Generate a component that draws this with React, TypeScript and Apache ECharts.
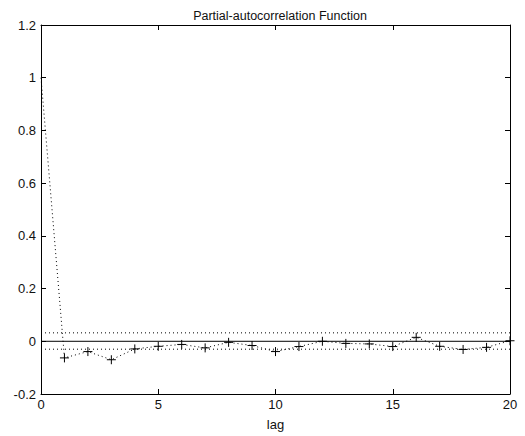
import React, { useEffect, useRef } from "react";
import * as echarts from "echarts";

const lags = [0, 1, 2, 3, 4, 5, 6, 7, 8, 9, 10, 11, 12, 13, 14, 15, 16, 17, 18, 19, 20];
const pacf = [1, -0.063, -0.039, -0.07, -0.029, -0.019, -0.012, -0.025, -0.004, -0.016, -0.039, -0.02, 0, -0.008, -0.01, -0.02, 0.015, -0.019, -0.031, -0.023, 0.002];
const upperBound = 0.032;
const lowerBound = -0.03;
const xTicks = [0, 5, 10, 15, 20];
const yTicks = [-0.2, 0, 0.2, 0.4, 0.6, 0.8, 1, 1.2];

const FONT = "Liberation Sans, Arial, sans-serif";

export default function App() {
  const ref = useRef<HTMLDivElement>(null);
  useEffect(() => {
    const chart = echarts.init(ref.current!, null, { renderer: "svg" });
    const xMin = xTicks[0];
    const xMax = xTicks[xTicks.length - 1];
    const baseAxisLine = { show: true, onZero: false, lineStyle: { color: "#000", width: 1 } };
    const tickIn = { show: true, inside: true, length: 5, lineStyle: { color: "#000" } };
    chart.setOption({
      animation: false,
      backgroundColor: "#fff",
      title: {
        text: "Partial-autocorrelation Function",
        left: 275,
        top: 4,
        textAlign: "center",
        textStyle: { fontFamily: FONT, fontSize: 12.5, fontWeight: "normal", color: "#111" },
      },
      grid: { left: 41, right: 15, top: 25, bottom: 41, containLabel: false },
      xAxis: [
        {
          type: "value",
          min: xMin,
          max: xMax,
          interval: 5,
          position: "bottom",
          name: "lag",
          nameLocation: "middle",
          nameGap: 24,
          nameTextStyle: { fontFamily: FONT, fontSize: 13, color: "#111" },
          axisLine: baseAxisLine,
          axisTick: tickIn,
          axisLabel: { fontFamily: FONT, fontSize: 13, color: "#111", margin: 4 },
          splitLine: { show: false },
        },
        {
          type: "value",
          min: xMin,
          max: xMax,
          interval: 5,
          position: "top",
          axisLine: baseAxisLine,
          axisTick: tickIn,
          axisLabel: { show: false },
          splitLine: { show: false },
        },
      ],
      yAxis: [
        {
          type: "value",
          min: yTicks[0],
          max: yTicks[yTicks.length - 1],
          interval: 0.2,
          position: "left",
          axisLine: baseAxisLine,
          axisTick: tickIn,
          axisLabel: {
            fontFamily: FONT,
            fontSize: 13,
            color: "#111",
            margin: 5,
            formatter: (v: number) => String(Math.round(v * 10) / 10),
          },
          splitLine: { show: false },
        },
        {
          type: "value",
          min: yTicks[0],
          max: yTicks[yTicks.length - 1],
          interval: 0.2,
          position: "right",
          axisLine: baseAxisLine,
          axisTick: tickIn,
          axisLabel: { show: false },
          splitLine: { show: false },
        },
      ],
      series: [
        {
          type: "line",
          data: [[xMin, 0], [xMax, 0]],
          symbol: "none",
          lineStyle: { color: "#000", width: 1, type: "solid" },
          silent: true,
          z: 2,
        },
        {
          type: "line",
          data: [[xMin, upperBound], [xMax, upperBound]],
          symbol: "none",
          lineStyle: { color: "#000", width: 1, type: [1, 3] },
          silent: true,
          z: 2,
        },
        {
          type: "line",
          data: [[xMin, lowerBound], [xMax, lowerBound]],
          symbol: "none",
          lineStyle: { color: "#000", width: 1, type: [1, 3] },
          silent: true,
          z: 2,
        },
        {
          type: "line",
          data: lags.map((l, i) =>
            i === 0 ? { value: [l, pacf[i]], symbol: "none" } : { value: [l, pacf[i]] }
          ),
          symbol: "path://M0,5L10,5M5,0L5,10",
          symbolSize: 9,
          itemStyle: { color: "#000", borderColor: "#000", borderWidth: 1 },
          lineStyle: { color: "#000", width: 1, type: [1, 3] },
          z: 3,
        },
      ],
    });
    return () => chart.dispose();
  }, []);
  return (
    <div
      ref={ref}
      style={{ position: "fixed", left: 0, top: 0, width: 525, height: 436 }}
    />
  );
}
